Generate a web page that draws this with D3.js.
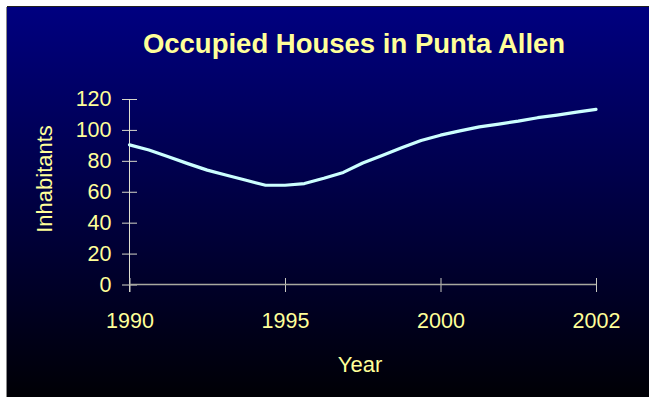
<!DOCTYPE html>
<html>
<head>
<meta charset="utf-8">
<script src="https://cdn.jsdelivr.net/npm/d3@7/dist/d3.min.js"></script>
<style>
  html, body { margin: 0; padding: 0; background: #ffffff; }
  svg { display: block; }
  text { font-family: "Liberation Sans", Arial, sans-serif; fill: #ffff99; }
</style>
</head>
<body>
<svg id="chart" width="649" height="397"></svg>
<script>
// Occupied houses, one value per period along the category axis
const occupied = [90.3, 87, 82.6, 78.2, 74, 70.7, 67.4, 64.2, 64.2, 65.3, 68.7, 72.5,
                  78.6, 83.4, 88.4, 93.2, 96.6, 99.4, 102, 103.8, 105.7, 107.9, 109.6, 111.5, 113.3];
// Labelled periods on the category axis
const yearTickIndex = [0, 8, 16, 24];
const yearTickLabels = ["1990", "1995", "2000", "2002"];
// Value axis ticks
const yTicks = [0, 20, 40, 60, 80, 100, 120];

const title = "Occupied Houses in Punta Allen";
const xTitle = "Year";
const yTitle = "Inhabitants";

const svg = d3.select("#chart");
const W = 649, H = 397;

// Slide-style background: navy fading to black
const defs = svg.append("defs");
const grad = defs.append("linearGradient")
  .attr("id", "bg").attr("x1", 0).attr("y1", 0).attr("x2", 0).attr("y2", 1);
grad.append("stop").attr("offset", "0%").attr("stop-color", "#000080");
grad.append("stop").attr("offset", "100%").attr("stop-color", "#000005");

svg.append("rect")
  .attr("x", 7).attr("y", 7).attr("width", W - 7).attr("height", H - 7)
  .attr("fill", "url(#bg)");
svg.append("line").attr("x1", 6.5).attr("x2", 6.5).attr("y1", 7).attr("y2", H)
  .attr("stroke", "#8a8a8a").attr("stroke-width", 1);
svg.append("line").attr("x1", 7).attr("x2", W).attr("y1", 6.5).attr("y2", 6.5)
  .attr("stroke", "#202020").attr("stroke-width", 1);

// Scales
const x = d3.scalePoint()
  .domain(d3.range(occupied.length))
  .range([129.5, 596]);
const y = d3.scaleLinear()
  .domain([0, 120])
  .range([284.5, 99]);

// Title
svg.append("text")
  .attr("x", 354).attr("y", 53)
  .attr("text-anchor", "middle")
  .attr("font-size", 27.5).attr("font-weight", "bold")
  .text(title);

// Y axis
const yAxis = svg.append("g")
  .attr("transform", `translate(${x(0)},0)`)
  .call(d3.axisLeft(y).tickValues(yTicks).tickSize(0).tickPadding(18));
yAxis.select(".domain").remove();
yAxis.selectAll(".tick text")
  .attr("font-size", 21.5).attr("fill", "#ffff99")
  .attr("font-family", "Liberation Sans, Arial, sans-serif");
yAxis.selectAll(".tick").append("line")
  .attr("x1", -7.5).attr("x2", 7.5)
  .attr("stroke", "#d6d6c8").attr("stroke-width", 1);
svg.append("line")
  .attr("x1", x(0)).attr("x2", x(0))
  .attr("y1", y(120)).attr("y2", y(0) + 7.5)
  .attr("stroke", "#e0e0d0").attr("stroke-width", 1);

// X axis
const xAxis = svg.append("g")
  .attr("transform", `translate(0,${y(0)})`)
  .call(d3.axisBottom(x)
    .tickValues(yearTickIndex)
    .tickFormat((d) => yearTickLabels[yearTickIndex.indexOf(d)])
    .tickSize(0).tickPadding(28));
xAxis.select(".domain").remove();
xAxis.selectAll(".tick text")
  .attr("font-size", 21.5).attr("fill", "#ffff99")
  .attr("font-family", "Liberation Sans, Arial, sans-serif");
svg.append("line")
  .attr("x1", x(0)).attr("x2", x(occupied.length - 1))
  .attr("y1", y(0)).attr("y2", y(0))
  .attr("stroke", "#a8a8a0").attr("stroke-width", 1.5);
xAxis.selectAll(".tick").append("line")
  .attr("y1", -6.5).attr("y2", 7.5)
  .attr("stroke", "#c8c8c0").attr("stroke-width", 1);

// Axis titles
svg.append("text")
  .attr("x", 360).attr("y", 372)
  .attr("text-anchor", "middle")
  .attr("font-size", 22)
  .text(xTitle);
svg.append("text")
  .attr("transform", "translate(52,179) rotate(-90)")
  .attr("text-anchor", "middle")
  .attr("font-size", 22)
  .text(yTitle);

// Series line
const line = d3.line()
  .x((d, i) => x(i))
  .y((d) => y(d));
svg.append("path")
  .datum(occupied)
  .attr("d", line)
  .attr("fill", "none")
  .attr("stroke", "#ccffff")
  .attr("stroke-width", 3.2)
  .attr("stroke-linejoin", "round")
  .attr("stroke-linecap", "round");
</script>
</body>
</html>
